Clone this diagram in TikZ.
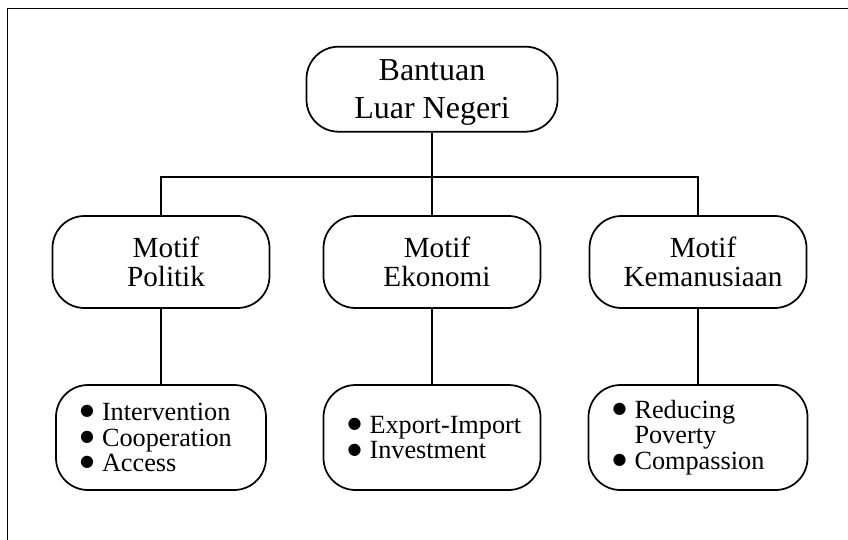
\documentclass[tikz,border=0pt]{standalone}
\usepackage{fontspec}
\setmainfont{Liberation Serif}
\newfontfamily\bulfont{DejaVu Sans}
\newcommand\mybul{\raisebox{3.5pt}{\bulfont\fontsize{12}{12}\selectfont ●}}
\newcommand\myitem[1]{\makebox[16.5pt][l]{\mybul}\mbox{#1}}
\begin{document}
\begin{tikzpicture}[x=0.75pt,y=-0.75pt,
  box/.style={draw, line width=1.3pt, rounded corners=24pt, inner sep=0pt},
  topbox/.style={box, minimum width=188.25pt, minimum height=63.75pt, align=center,
    font=\fontsize{24}{28.5}\selectfont},
  motbox/.style={box, minimum width=162.75pt, minimum height=69pt, align=center,
    font=\fontsize{21.9}{21.75}\selectfont},
  lstbox/.style={box, minimum height=78.75pt, inner xsep=18pt, align=left,
    font=\fontsize{19.7}{19.1}\selectfont},
  conn/.style={line width=1.5pt}]
\useasboundingbox (0,0) rectangle (848,539);
\clip (0,0) rectangle (848,539);
\draw[line width=1.3pt] (7.5,8.5) rectangle (870,570);

\node[topbox] (top) at (432,89.2) {\rule{0pt}{21pt}Bantuan\\Luar Negeri};

\node[motbox] (m1) at (161,262) {\hspace*{7.5pt}Motif\\\hspace*{7.5pt}Politik};
\node[motbox] (m2) at (432,262) {\hspace*{7.5pt}Motif\\\hspace*{7.5pt}Ekonomi};
\node[motbox] (m3) at (698,262) {\hspace*{7.5pt}Motif\\\hspace*{7.5pt}Kemanusiaan};

\node[lstbox, minimum width=157.5pt, text width=121.5pt] (b1) at (161,437.5)
  {\myitem{Intervention}\\\myitem{Cooperation}\\\myitem{Access}};
\node[lstbox, minimum width=162.75pt, text width=126.75pt] (b2) at (432,437.5)
  {\myitem{Export-Import}\\\myitem{Investment}};
\node[lstbox, minimum width=164.25pt, text width=128.25pt] (b3) at (698,437.5)
  {\myitem{Reducing}\\\hspace*{16.5pt}Poverty\\\myitem{Compassion}};

\coordinate (bus) at (432,177);
\draw[conn] (top.south) -- (top.south |- bus);
\draw[conn] (m1.north) -- (m1.north |- bus) -- (m3.north |- bus) -- (m3.north);
\draw[conn] (m2.north) -- (m2.north |- bus);
\draw[conn] (m1.south) -- (b1.north);
\draw[conn] (m2.south) -- (b2.north);
\draw[conn] (m3.south) -- (b3.north);
\end{tikzpicture}
\end{document}
